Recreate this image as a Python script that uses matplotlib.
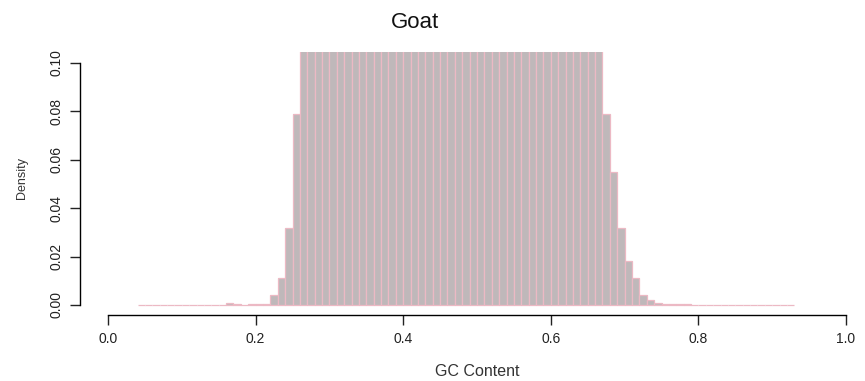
import numpy as np
import matplotlib
matplotlib.use("Agg")
import matplotlib.pyplot as plt

plt.rcParams['font.family'] = ['Liberation Sans', 'DejaVu Sans']

# histogram bins (left edges, width 0.01) and densities
bin_width = 0.01
bin_left = np.round(np.arange(4, 93) * 0.01, 2)
density = [
    # 0.04 - 0.21
    0.0002, 0.0002, 0.0002, 0.0002, 0.0002, 0.0002, 0.0002, 0.0002, 0.0002,
    0.0002, 0.0002, 0.0002, 0.0008, 0.0003, 0.0002, 0.0004, 0.0005, 0.0006,
    # 0.22 - 0.25
    0.004, 0.011, 0.032, 0.079,
    # 0.26 - 0.66 (clipped at the top)
    2.43, 2.43, 2.43, 2.43, 2.43, 2.43, 2.43, 2.43, 2.43, 2.43,
    2.43, 2.43, 2.43, 2.43, 2.43, 2.43, 2.43, 2.43, 2.43, 2.43,
    2.43, 2.43, 2.43, 2.43, 2.43, 2.43, 2.43, 2.43, 2.43, 2.43,
    2.43, 2.43, 2.43, 2.43, 2.43, 2.43, 2.43, 2.43, 2.43, 2.43,
    2.43,
    # 0.67 - 0.75
    0.079, 0.055, 0.032, 0.018, 0.011, 0.004, 0.002, 0.001, 0.0006,
    # 0.76 - 0.92
    0.0004, 0.0003, 0.0003, 0.0002, 0.0002, 0.0002, 0.0002, 0.0002, 0.0002,
    0.0002, 0.0002, 0.0002, 0.0002, 0.0002, 0.0002, 0.0002, 0.0002,
]
x_ticks = [0.0, 0.2, 0.4, 0.6, 0.8, 1.0]
y_ticks = [0.00, 0.02, 0.04, 0.06, 0.08, 0.10]

W, H = 865, 381
fig = plt.figure(figsize=(W / 100, H / 100), dpi=100)

# axes box in pixels: left 80, right 865, top 52, bottom 315
ax_l, ax_r, ax_t, ax_b = 80, 865, 52, 315
ax = fig.add_axes([ax_l / W, 1 - ax_b / H, (ax_r - ax_l) / W, (ax_b - ax_t) / H])

ax.bar(bin_left, density, width=bin_width, align='edge',
       color='#bfb8ba', edgecolor='#ecb9c4', linewidth=0.9)

# data -> pixel mapping: x 0 at 108px, 1 at 846px ; y 0 at 305px, 0.1 at 63px
xs = 738.0
ys = 2420.0
ax.set_xlim(-(108 - ax_l) / xs, (ax_r - 108) / xs)
ax.set_ylim(-(ax_b - 305) / ys, (305 - ax_t) / ys)

for s in ['top', 'right']:
    ax.spines[s].set_visible(False)
ax.spines['bottom'].set_bounds(0, 1)
ax.spines['left'].set_bounds(0, 0.1)
ax.spines['bottom'].set_linewidth(1.0)
ax.spines['left'].set_linewidth(1.0)

ax.set_xticks(x_ticks)
ax.set_xticklabels([f"{v:.1f}" for v in x_ticks])
ax.set_yticks(y_ticks)
ax.set_yticklabels([f"{v:.2f}" for v in y_ticks], rotation=90, va='center')
ax.tick_params(axis='both', direction='out', length=7, width=1.0,
               labelsize=10, colors='#222222', pad=5)

ax.set_xlabel("GC Content", fontsize=11.5, color='#333333', va='center')
ax.xaxis.set_label_coords((477 - ax_l) / (ax_r - ax_l), (ax_b - 372) / (ax_b - ax_t))
ax.set_ylabel("Density", fontsize=9, color='#333333', va='center')
ax.yaxis.set_label_coords((22 - ax_l) / (ax_r - ax_l), (ax_b - 178) / (ax_b - ax_t))

fig.text(415 / W, 1 - 22 / H, "Goat", ha='center', va='center',
         fontsize=16, color='#111111')

fig.savefig("out.png", dpi=100)
